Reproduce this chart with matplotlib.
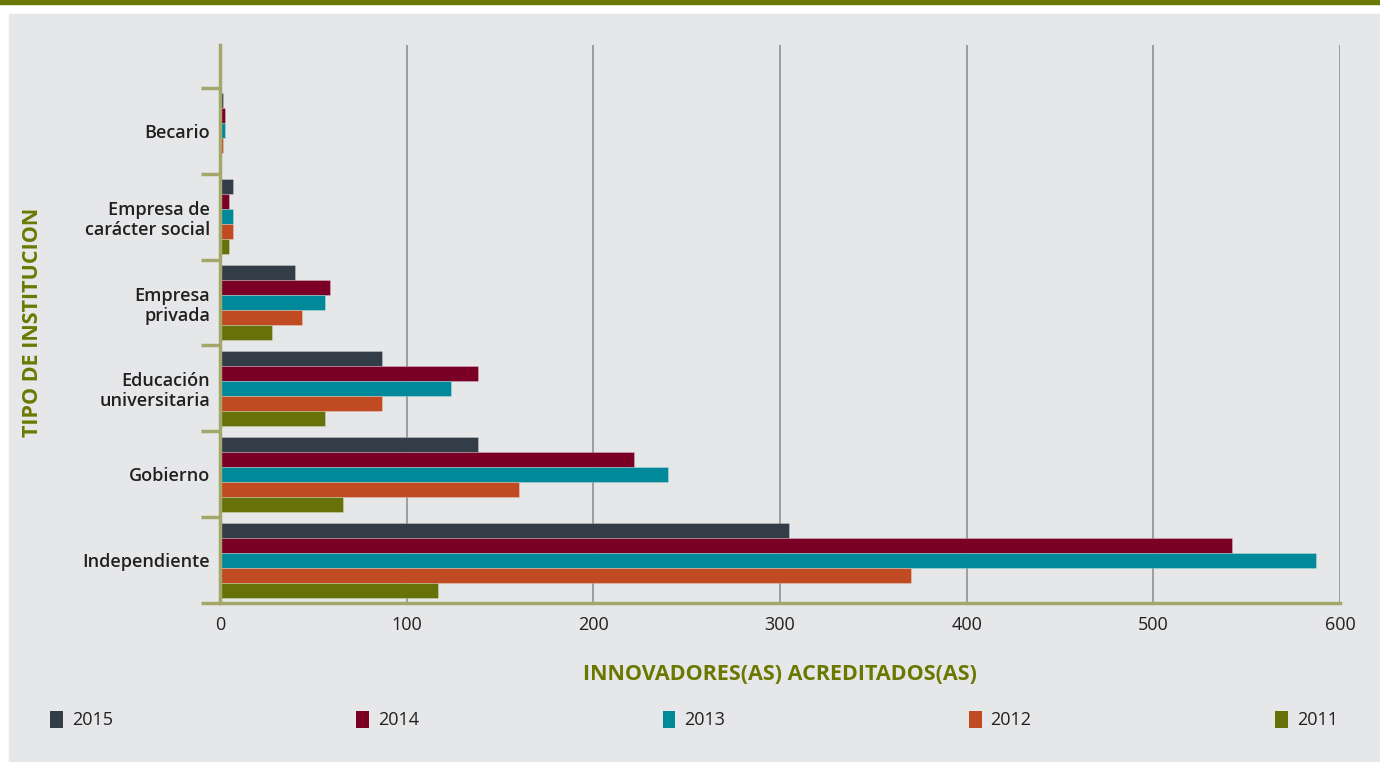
import matplotlib.pyplot as plt
from matplotlib.patches import Rectangle, Patch
import numpy as np

categorias = ["Independiente", "Gobierno", "Educación\nuniversitaria",
              "Empresa\nprivada", "Empresa de\ncarácter social", "Becario"]
anios = ["2015", "2014", "2013", "2012", "2011"]
v2015 = [305, 138, 87, 40, 7, 1.5]
v2014 = [542, 222, 138, 59, 5, 2.5]
v2013 = [587, 240, 124, 56, 7, 2.5]
v2012 = [370, 160, 87, 44, 7, 1.5]
v2011 = [117, 66, 56, 28, 5, 0]
colores = ["#333d47", "#7a0026", "#008a99", "#c04a21", "#667109"]
xticks = [0, 100, 200, 300, 400, 500, 600]

plt.rcParams['font.family'] = ['Open Sans', 'DejaVu Sans']
oliva = "#6b7800"
texto = "#231f20"

fig = plt.figure(figsize=(13.8, 7.62), dpi=100)
fig.patch.set_facecolor("white")
# panel gris y barra superior (detrás de los ejes)
fig.patches.append(Rectangle((9 / 1380, 0), 1 - 9 / 1380, 1 - 14 / 762,
                             transform=fig.transFigure, color="#e6e7e9", zorder=-2))
fig.patches.append(Rectangle((0, 1 - 4 / 762), 1, 4 / 762,
                             transform=fig.transFigure, color="#6b7800", zorder=-2))

ax = fig.add_axes([220 / 1380, 1 - 603 / 762, 1120 / 1380, 558 / 762])
ax.set_facecolor("none")

y = np.arange(len(categorias))
h = 0.175
series = [v2015, v2014, v2013, v2012, v2011]
for i, (vals, c, lab) in enumerate(zip(series, colores, anios)):
    ax.barh(y + (2 - i) * h, vals, height=h, color=c, label=lab,
            edgecolor=(1, 1, 1, 0.25), linewidth=0.7, zorder=3)

ax.set_xlim(0, 600)
ax.set_ylim(-0.5, 6.0)
ax.set_xticks(xticks)
ax.set_xticklabels([str(t) for t in xticks], fontsize=13, color=texto)
ax.tick_params(axis="x", length=0, pad=9)
ax.grid(axis="x", color="#8a8a8a", linewidth=1.1, zorder=1)

ax.set_yticks(np.arange(-0.5, 6.0, 1.0))
ax.set_yticklabels([])
ax.tick_params(axis="y", which="major", length=14, width=2.5, color="#a3a86a")
ax.set_yticks(y, minor=True)
ax.set_yticklabels(categorias, minor=True, fontsize=13, fontweight="semibold",
                   color=texto, ha="right", linespacing=1.15)
ax.tick_params(axis="y", which="minor", length=0, pad=7)

for s in ["top", "right"]:
    ax.spines[s].set_visible(False)
for s in ["left", "bottom"]:
    ax.spines[s].set_color("#a3a86a")
    ax.spines[s].set_linewidth(2.5)
    ax.spines[s].set_zorder(4)

fig.text(33 / 1380, 1 - 322 / 762, "TIPO DE INSTITUCION", rotation=90,
         ha="center", va="center", fontsize=15.5, fontweight="bold", color=oliva)
fig.text(780 / 1380, 1 - 675 / 762, "INNOVADORES(AS) ACREDITADOS(AS)",
         ha="center", va="center", fontsize=15.5, fontweight="bold", color=oliva)

handles = [Patch(facecolor=c) for c in colores]
fig.legend(handles, anios, loc="center", ncol=5, mode="expand",
           bbox_to_anchor=(34 / 1380, 1 - 735 / 762, 1320 / 1380, 30 / 762),
           frameon=False, handlelength=0.7, handleheight=1.1, handletextpad=0.5,
           fontsize=13, labelcolor=texto)

fig.savefig("out.png", dpi=100, facecolor=fig.get_facecolor())
